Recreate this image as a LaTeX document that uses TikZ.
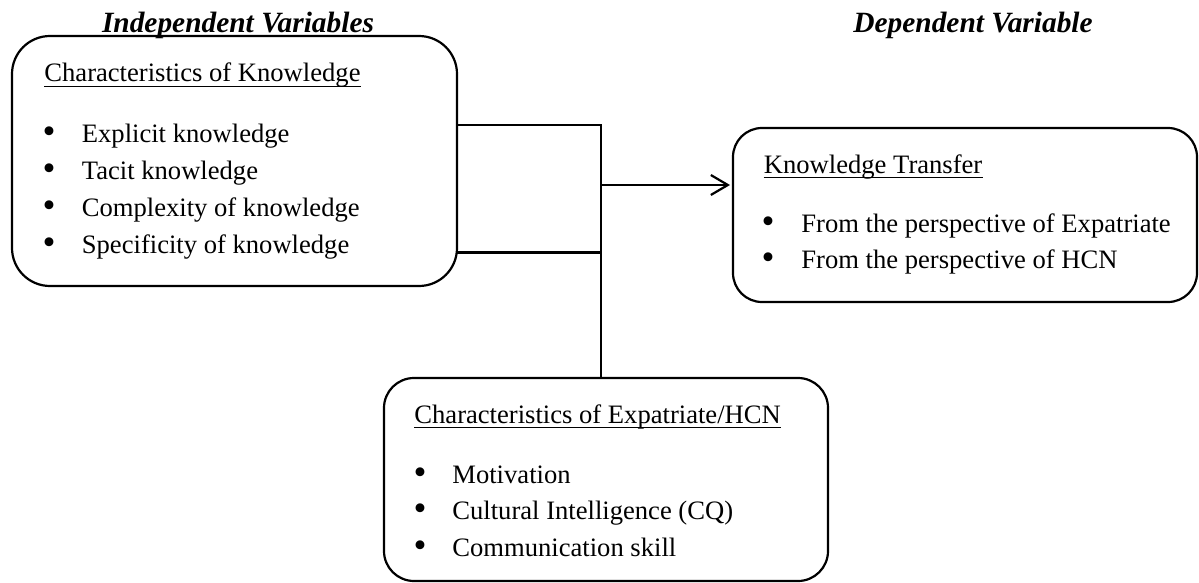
\documentclass[tikz,border=0pt]{standalone}
\usepackage{fontspec}
\setmainfont{Liberation Serif}
\usetikzlibrary{arrows.meta}
\begin{document}
\begin{tikzpicture}[x=0.5pt,y=-0.5pt,
  frame/.style={draw, line width=1.1pt, inner sep=0pt, outer sep=0pt, rectangle},
  heading/.style={font=\fontsize{14.7}{17}\selectfont\bfseries\itshape, inner sep=0pt, anchor=base},
  txt/.style={font=\fontsize{13.3}{16}\selectfont, inner sep=0pt, anchor=base west},
  dot/.style={font=\fontsize{18.5}{18.5}\selectfont, inner sep=0pt, anchor=center},
  link/.style={line width=1.1pt},
  uline/.style={line width=0.65pt}]
\useasboundingbox (0,0) rectangle (1199,583);

% column headings
\node[heading] (hind) at (238,33) {Independent Variables};
\node[heading] (hdep) at (973,33) {Dependent Variable};

% boxes
\node[frame, rounded corners=19pt, minimum width=222.5pt, minimum height=125pt] (ck) at (234.5,161) {};
\node[frame, rounded corners=14.5pt, minimum width=232pt, minimum height=87pt] (kt) at (965,215) {};
\node[frame, rounded corners=15pt, minimum width=222pt, minimum height=101.5pt] (ce) at (606,479.5) {};

% Characteristics of Knowledge
\node[txt] (t1) at (44,82) {Characteristics of Knowledge};
\draw[uline] ([yshift=-2.4pt]t1.base west) -- ([yshift=-2.4pt]t1.base east);
\node[dot] (b11) at (49,135.5) {•};
\node[txt] (i11) at (81.5,142.5) {Explicit knowledge};
\node[dot] (b12) at (49,172.5) {•};
\node[txt] (i12) at (81.5,179.5) {Tacit knowledge};
\node[dot] (b13) at (49,209.5) {•};
\node[txt] (i13) at (81.5,216.5) {Complexity of knowledge};
\node[dot] (b14) at (49,246.5) {•};
\node[txt] (i14) at (81.5,253.5) {Specificity of knowledge};

% Knowledge Transfer
\node[txt] (t2) at (763.5,173) {Knowledge Transfer};
\draw[uline] ([yshift=-2.4pt]t2.base west) -- ([yshift=-2.4pt]t2.base east);
\node[dot] (b21) at (768,225) {•};
\node[txt] (i21) at (801,232) {From the perspective of Expatriate};
\node[dot] (b22) at (768,261) {•};
\node[txt] (i22) at (801,268) {From the perspective of HCN};

% Characteristics of Expatriate/HCN
\node[txt] (t3) at (414,423) {Characteristics of Expatriate/HCN};
\draw[uline] ([yshift=-2.4pt]t3.base west) -- ([yshift=-2.4pt]t3.base east);
\node[dot] (b31) at (420,476) {•};
\node[txt] (i31) at (452,483) {Motivation};
\node[dot] (b32) at (420,512.5) {•};
\node[txt] (i32) at (452,519.5) {Cultural Intelligence (CQ)};
\node[dot] (b33) at (420,549) {•};
\node[txt] (i33) at (452,556) {Communication skill};

% joining lines
\coordinate (jt) at (601,125);
\coordinate (jb) at (601,252.5);
\coordinate (jm) at (601,185);
\draw[link] (jt -| ck.east) -- (jt) -- (jt |- ce.north);
\draw[link] (jb -| ck.east) -- (jb);
\draw[link, -{Straight Barb[length=8.5pt,width=10pt]}, shorten >=1.5pt] (jm) -- (jm -| kt.west);
\end{tikzpicture}
\end{document}
